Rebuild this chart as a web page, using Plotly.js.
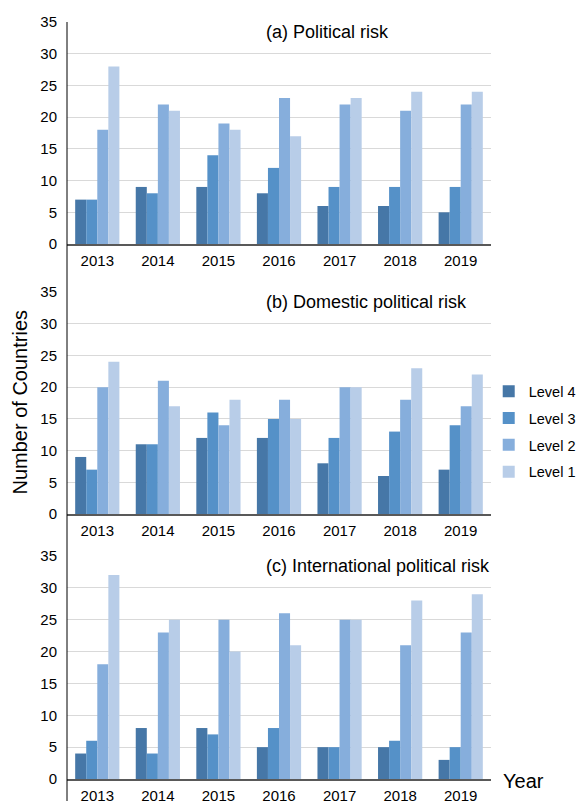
<!DOCTYPE html>
<html>
<head>
<meta charset="utf-8">
<script src="https://cdn.plot.ly/plotly-3.0.1.min.js"></script>
<style>html,body{margin:0;padding:0;background:#fff;}#chart{width:577px;height:801px;}</style>
</head>
<body>
<div id="chart"></div>
<script>
const years = ['2013','2014','2015','2016','2017','2018','2019'];
const levels = ['Level 4','Level 3','Level 2','Level 1'];
const panelTitles = ['(a) Political risk','(b) Domestic political risk','(c) International political risk'];

// (a) Political risk
const politicalL4 = [7, 9, 9, 8, 6, 6, 5];
const politicalL3 = [7, 8, 14, 12, 9, 9, 9];
const politicalL2 = [18, 22, 19, 23, 22, 21, 22];
const politicalL1 = [28, 21, 18, 17, 23, 24, 24];
// (b) Domestic political risk
const domesticL4 = [9, 11, 12, 12, 8, 6, 7];
const domesticL3 = [7, 11, 16, 15, 12, 13, 14];
const domesticL2 = [20, 21, 14, 18, 20, 18, 17];
const domesticL1 = [24, 17, 18, 15, 20, 23, 22];
// (c) International political risk
const internationalL4 = [4, 8, 8, 5, 5, 5, 3];
const internationalL3 = [6, 4, 7, 8, 5, 6, 5];
const internationalL2 = [18, 23, 25, 26, 25, 21, 23];
const internationalL1 = [32, 25, 20, 21, 25, 28, 29];

const colors = ['#4677A7', '#5591C8', '#86AEDC', '#B8CDE8'];
const panels = [
  [politicalL4, politicalL3, politicalL2, politicalL1],
  [domesticL4, domesticL3, domesticL2, domesticL1],
  [internationalL4, internationalL3, internationalL2, internationalL1]
];

const FONT = 'Arial, "Liberation Sans", sans-serif';
const traces = [];
panels.forEach((series, p) => {
  series.forEach((vals, i) => {
    traces.push({
      type: 'bar',
      x: years,
      y: vals,
      name: levels[i],
      legendgroup: levels[i],
      showlegend: p === 1,
      marker: {color: colors[i], line: {width: 0}},
      xaxis: p === 0 ? 'x' : 'x' + (p + 1),
      yaxis: p === 0 ? 'y' : 'y' + (p + 1),
      hoverinfo: 'x+y+name'
    });
  });
});

const domains = [[0.7067, 1], [0.350, 0.6433], [0, 0.2946]];
function xax(anchor) {
  return {
    type: 'category', anchor: anchor, domain: [0, 1],
    showline: true, linecolor: '#595959', linewidth: 1.5,
    showgrid: false, zeroline: false,
    ticks: 'outside', ticklen: 2, tickcolor: 'rgba(0,0,0,0)',
    tickfont: {family: FONT, size: 15, color: '#000'}
  };
}
function yax(anchor, dom) {
  return {
    anchor: anchor, domain: dom, range: [0, 35], dtick: 5, tick0: 0,
    showline: false, zeroline: false,
    showgrid: true, gridcolor: '#d9d9d9', gridwidth: 1,
    ticks: 'outside', ticklen: 6, tickcolor: 'rgba(0,0,0,0)',
    tickfont: {family: FONT, size: 15, color: '#000'}
  };
}

const annotations = panelTitles.map((t, p) => ({
  text: t, xref: (p === 0 ? 'x' : 'x' + (p + 1)) + ' domain', yref: (p === 0 ? 'y' : 'y' + (p + 1)) + ' domain',
  x: 0.4646, y: 0.956, xanchor: 'left', yanchor: 'middle', showarrow: false,
  font: {family: FONT, size: 18, color: '#000'}
}));
annotations.push({
  text: 'Number of Countries', xref: 'paper', yref: 'paper', x: -0.1097, y: 0.498,
  xanchor: 'center', yanchor: 'middle', textangle: -90, showarrow: false,
  font: {family: FONT, size: 20, color: '#000'}
});
annotations.push({
  text: 'Year', xref: 'paper', yref: 'paper', x: 1.024, y: -0.003,
  xanchor: 'left', yanchor: 'middle', showarrow: false,
  font: {family: FONT, size: 20, color: '#000'}
});

const layout = {
  width: 577, height: 801,
  margin: {l: 67, r: 86, t: 22, b: 22, pad: 0, autoexpand: false},
  paper_bgcolor: '#fff', plot_bgcolor: '#fff',
  font: {family: FONT, color: '#000'},
  barmode: 'group', bargap: 0.27, bargroupgap: 0,
  xaxis: xax('y'), xaxis2: xax('y2'), xaxis3: xax('y3'),
  yaxis: yax('x', domains[0]), yaxis2: yax('x2', domains[1]), yaxis3: yax('x3', domains[2]),
  showlegend: true,
  legend: {
    xref: 'container', yref: 'container',
    x: 0.847, y: 0.461, xanchor: 'left', yanchor: 'middle',
    font: {family: FONT, size: 14.5, color: '#000'},
    traceorder: 'grouped', tracegroupgap: 5, itemwidth: 30,
    bgcolor: 'rgba(0,0,0,0)'
  },
  annotations: annotations,
  shapes: [{
    type: 'line', xref: 'paper', yref: 'paper', x0: 0, x1: 0, y0: 1, y1: -0.03,
    line: {color: '#000', width: 1}, layer: 'above'
  }]
};

Plotly.newPlot('chart', traces, layout, {displayModeBar: false, staticPlot: true});
</script>
</body>
</html>
